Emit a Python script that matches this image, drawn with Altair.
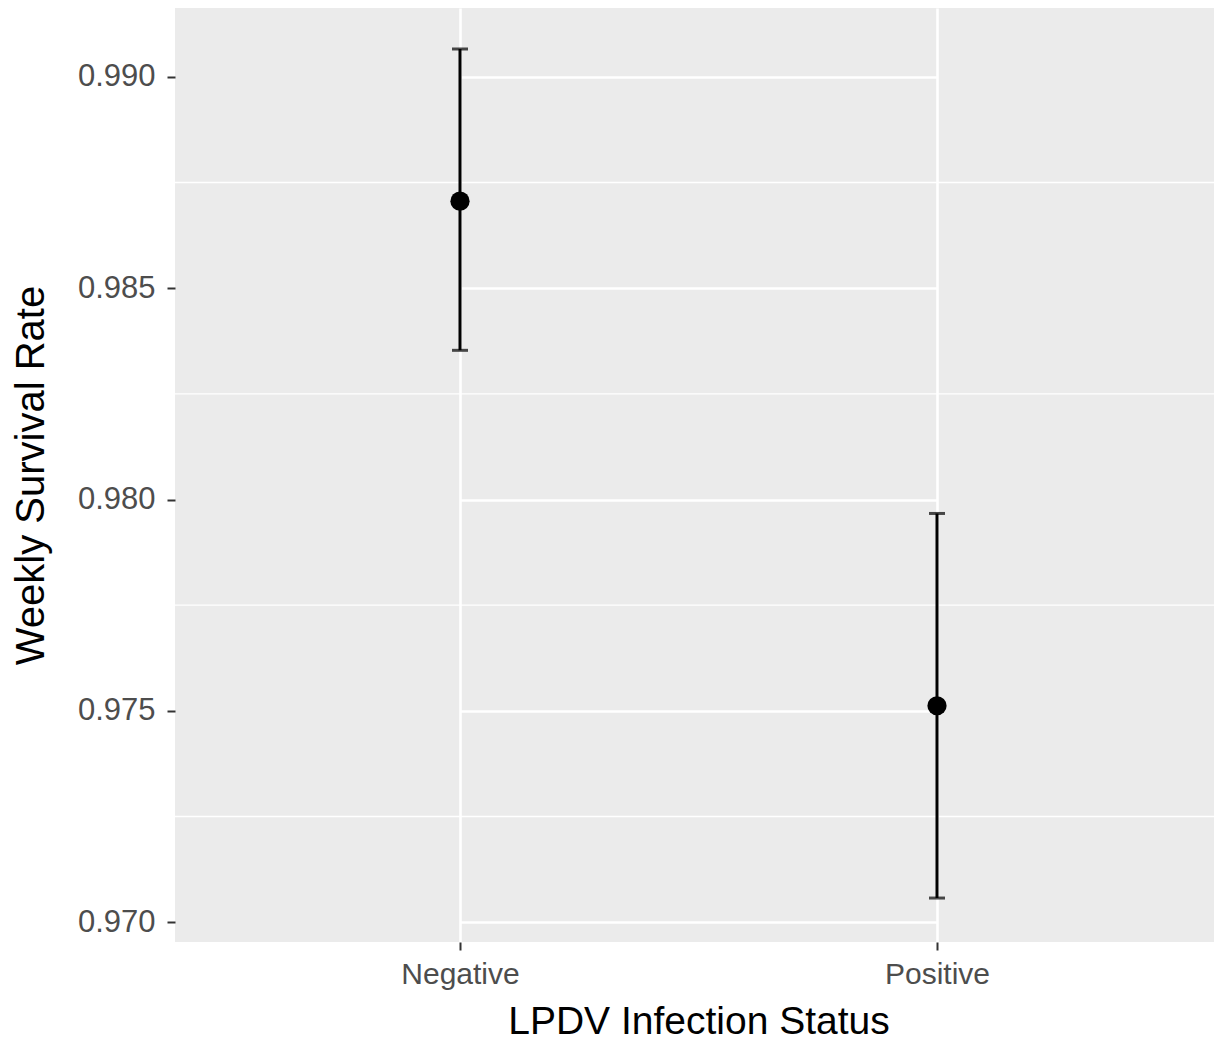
import altair as alt
import pandas as pd

status = ["Negative", "Positive"]
estimate = [0.98706, 0.97512]
lower = [0.98353, 0.97057]
upper = [0.99066, 0.97967]

major_ticks = [0.970, 0.975, 0.980, 0.985, 0.990]
minor_ticks = [0.9725, 0.9775, 0.9825, 0.9875]

df = pd.DataFrame({"status": status, "est": estimate, "lo": lower, "hi": upper})
minor_df = pd.DataFrame({"v": minor_ticks})

FONT = "Liberation Sans"
ydom = [0.96953, 0.99163]


def xscale():
    return alt.Scale(type="point", domain=status, range=[285, 762], padding=0)


xenc = alt.X(
    "status:N",
    scale=xscale(),
    axis=alt.Axis(
        title="LPDV Infection Status",
        labelAngle=0,
        labelFont=FONT, labelFontSize=30, labelColor="#4D4D4D",
        titleFont=FONT, titleFontSize=39, titleColor="#000000", titleFontWeight="normal",
        tickColor="#333333", tickSize=8, tickWidth=2,
        labelPadding=9, titlePadding=13,
        domain=False, grid=True, gridColor="white", gridWidth=2.6,
    ),
)

yscale = alt.Scale(domain=ydom, nice=False, zero=False)

minor = alt.Chart(minor_df).mark_rule(color="white", strokeWidth=1.4).encode(
    y=alt.Y("v:Q", scale=yscale)
)

base = alt.Chart(df)

rule = base.mark_rule(color="black", strokeWidth=3).encode(
    x=xenc,
    y=alt.Y(
        "lo:Q",
        scale=yscale,
        axis=alt.Axis(
            title="Weekly Survival Rate",
            values=major_ticks, format=".3f",
            labelFont=FONT, labelFontSize=31, labelColor="#4D4D4D",
            titleFont=FONT, titleFontSize=40, titleColor="#000000", titleFontWeight="normal",
            tickColor="#333333", tickSize=8, tickWidth=2,
            labelPadding=12, titlePadding=26,
            domain=False, grid=True, gridColor="white", gridWidth=2.6,
        ),
    ),
    y2="hi:Q",
)

cap_lo = base.mark_tick(color="black", size=16, thickness=3).encode(
    x=alt.X("status:N", scale=xscale()),
    y=alt.Y("lo:Q", scale=yscale),
)
cap_hi = base.mark_tick(color="black", size=16, thickness=3).encode(
    x=alt.X("status:N", scale=xscale()),
    y=alt.Y("hi:Q", scale=yscale),
)

pts = base.mark_circle(color="black", size=370, opacity=1).encode(
    x=alt.X("status:N", scale=xscale()),
    y=alt.Y("est:Q", scale=yscale),
)

chart = (
    alt.layer(minor, rule, cap_lo, cap_hi, pts)
    .properties(
        width=1039,
        height=934,
        autosize=alt.AutoSizeParams(type="none"),
        padding={"left": 167, "top": 0, "right": 0, "bottom": 103},
        background="white",
    )
    .configure_view(fill="#EBEBEB", stroke=None)
)

chart.save("out.html", embed_options={"renderer": "svg", "actions": False})
